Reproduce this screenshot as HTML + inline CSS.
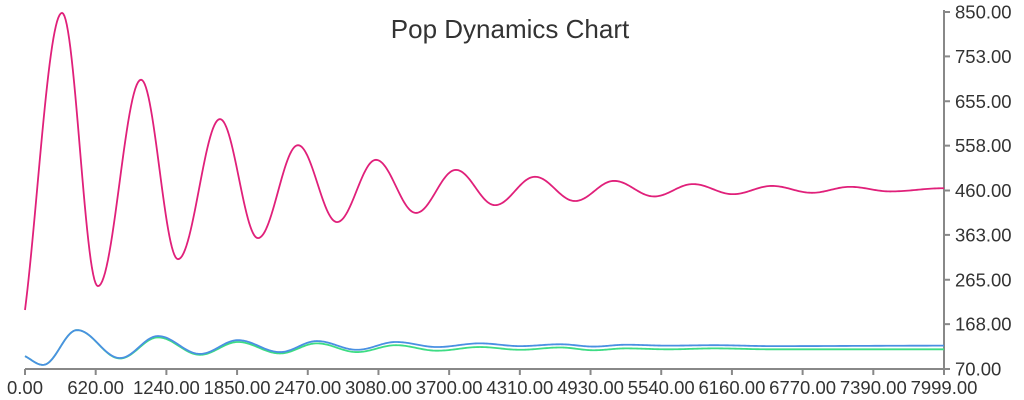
<!DOCTYPE html>
<html><head><meta charset="utf-8"><style>
html,body{margin:0;padding:0;background:#fff;}
svg{display:block;font-family:"Liberation Sans",sans-serif;}
</style></head><body>
<svg id="chart" width="1024" height="400">
<text x="510" y="38" text-anchor="middle" font-size="26" fill="#333">Pop Dynamics Chart</text>
<g id="axes"></g><g id="series"></g>
</svg>
<script>
const xTickLabels=["0.00","620.00","1240.00","1850.00","2470.00","3080.00","3700.00","4310.00","4930.00","5540.00","6160.00","6770.00","7390.00","7999.00"];
const yTickLabels=["70.00","168.00","265.00","363.00","460.00","558.00","655.00","753.00","850.00"];
const pinkT=[0,322,635,1010,1332,1697,2028,2376,2716,3055,3403,3751,4091,4439,4787,5127,5475,5814,6162,6502,6850,7181,7530,7999];
const pinkV=[199,848,251,702,310,616,356,559,391,527,411,505,428,490,437,481,447,474,452,470,455,468,458,465];
const blueT=[0,157,453,827,1158,1523,1854,2219,2541,2890,3229,3586,3960,4310,4660,4950,5230,5600,6000,6500,7999];
const blueV=[98,79,155,94,142,103,133,107,131,112,129,118,126,120,124,119,123,121,122,120,121];
const greenT=[0,157,453,827,1158,1523,1854,2219,2541,2890,3229,3586,3960,4310,4660,4950,5230,5600,6000,6500,7999];
const greenV=[98,79,155,93,139,101,129,104,126,107,122,110,118,112,117,111,115,113,115,113,113];

const X0=25,X1=944,Y0=369,Y1=12,TMAX=7999,VMIN=70,VMAX=850;
const xs=t=>X0+(t/TMAX)*(X1-X0);
const ys=v=>Y0-(v-VMIN)/(VMAX-VMIN)*(Y0-Y1);
const NS="http://www.w3.org/2000/svg";
const axes=document.getElementById('axes'),ser=document.getElementById('series');
function mk(tag,attrs,parent){const e=document.createElementNS(NS,tag);for(const k in attrs)e.setAttribute(k,attrs[k]);parent.appendChild(e);return e;}
const xl=mk('line',{x1:X0,y1:Y0,x2:X1,y2:Y0,stroke:'#888','stroke-width':2},axes);


const yl=mk('line',{x1:X1,y1:Y1-2,x2:X1,y2:Y0+1,stroke:'#888','stroke-width':2},axes);


xTickLabels.forEach((l,i)=>{
  const px=X0+i*(X1-X0)/(xTickLabels.length-1);
  const tk=mk('line',{x1:px,y1:Y0,x2:px,y2:Y0+6,stroke:'#888','stroke-width':2},axes);
  
  
  const tx=mk('text',{x:px,y:394,'text-anchor':'middle','font-size':18.5,fill:'#333'},axes);
  tx.textContent=l;
  
  
});
yTickLabels.forEach(l=>{
  const py=ys(parseFloat(l));
  const tk=mk('line',{x1:X1,y1:py,x2:X1+6,y2:py,stroke:'#888','stroke-width':2},axes);
  
  
  const tx=mk('text',{x:955,y:py+6.5,'font-size':18.5,fill:'#333'},axes);
  tx.textContent=l;
  
  
});
const P0=0.25, C0=Math.cos(Math.PI*P0);
function pathFor(T,V){
  let d='M'+xs(T[0]).toFixed(2)+','+ys(V[0]).toFixed(2);
  for(let i=1;i<T.length;i++){
    const N=30;
    for(let k=1;k<=N;k++){
      const u=k/N;
      const e=(i===1)?(C0-Math.cos(Math.PI*(P0+(1-P0)*u)))/(C0+1):(1-Math.cos(Math.PI*u))/2;
      const t=T[i-1]+(T[i]-T[i-1])*u;
      const v=V[i-1]+(V[i]-V[i-1])*e;
      d+=' L'+xs(t).toFixed(2)+','+ys(v).toFixed(2);
    }
  }
  return d;
}
[[greenT,greenV,'#3ddc84','green-series'],[blueT,blueV,'#4a90e2','blue-series'],[pinkT,pinkV,'#e0207a','pink-series']].forEach(s=>{
  const p=mk('path',{d:pathFor(s[0],s[1]),fill:'none',stroke:s[2],'stroke-width':1.8},ser);
  
  
});
</script>
</body></html>
